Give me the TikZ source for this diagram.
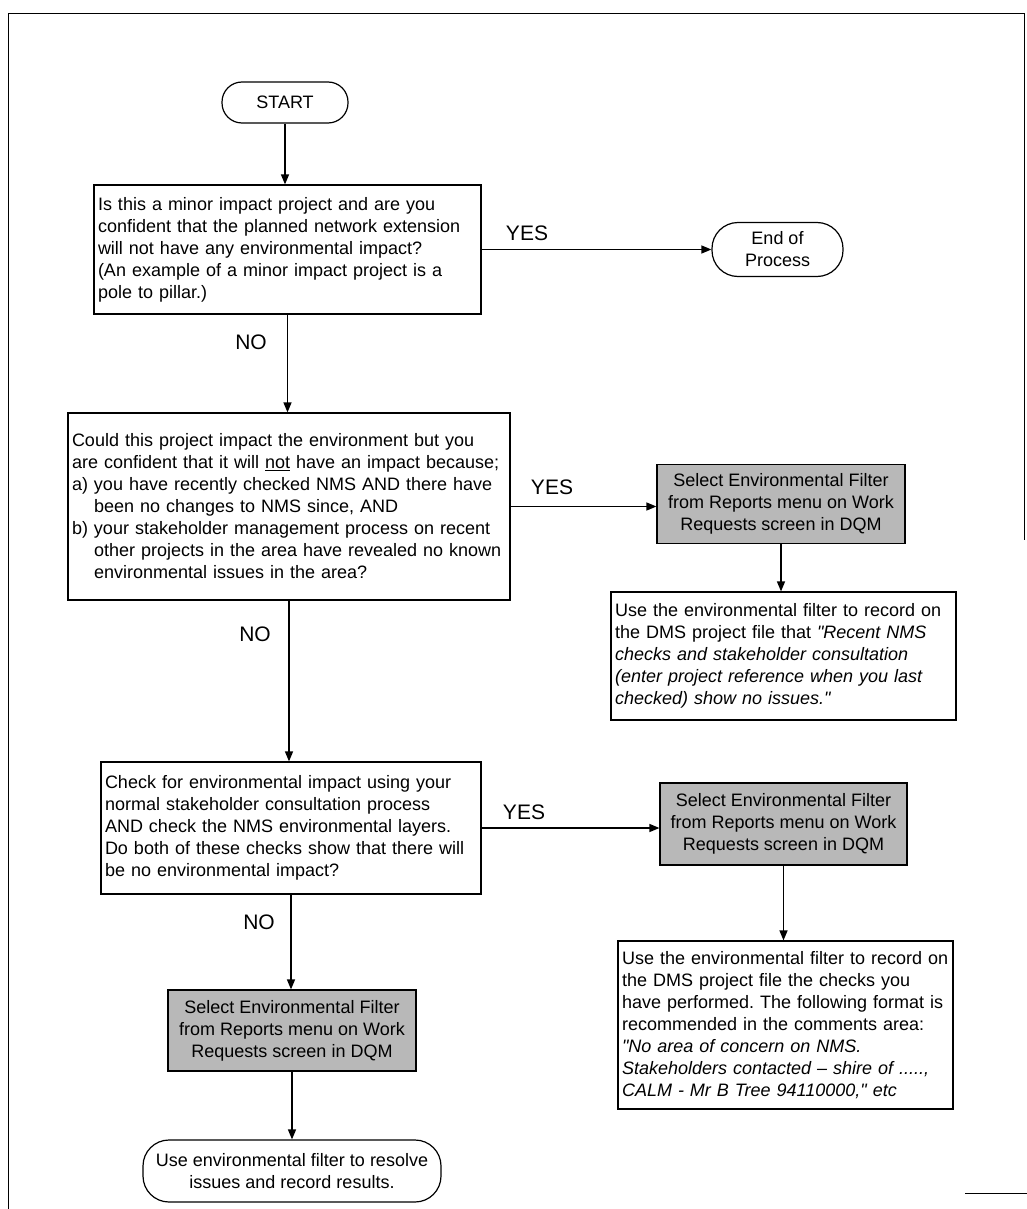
\documentclass[tikz,border=0pt]{standalone}
\usepackage{fontspec}
\setmainfont{Liberation Sans}
\usetikzlibrary{arrows.meta}
\definecolor{greyfill}{gray}{0.72}
\frenchspacing
\begin{document}
\begin{tikzpicture}[x=1pt,y=-1pt,
  every node/.style={font=\fontsize{18}{22}\selectfont},
  box/.style={draw, line width=1.2pt, inner xsep=4pt, inner ysep=0pt, align=left},
  greybox/.style={draw, line width=1.2pt, fill=greyfill, inner sep=0pt, align=center},
  term/.style={draw, line width=1.2pt, inner sep=0pt, align=center},
  arr/.style={line width=1.4pt, -{Triangle[length=10pt,width=8pt]}},
  lbl/.style={font=\fontsize{21}{25}\selectfont},
  frame/.style={line width=1pt}]
\useasboundingbox (0,0) rectangle (1027,1209);
% frame
\draw[frame] (8,1209) -- (8,14) -- (1024,14) -- (1024,540);
\draw[frame] (965,1193) -- (1027,1193);

% left column
\node[term, rounded corners=20pt, minimum width=126pt, minimum height=41pt] (start) at (285,102.5) {START};

\node[box, text width=379pt, minimum height=129pt] (q1) at (287.5,249.5)
 {Is this a minor impact project and are you\\
  confident that the planned network extension\\
  will not have any environmental impact?\\
  (An example of a minor impact project is a\\
  pole to pillar.)};

\node[term, rounded corners=26pt, minimum width=131pt, minimum height=54pt] (endp) at (777.5,249.5) {End of\\Process};

\node[box, text width=434pt, minimum height=187pt] (q2) at (289,506.5)
 {Could this project impact the environment but you\\
  are confident that it will \underline{not} have an impact because;\\
  a) you have recently checked NMS AND there have\\
  \hspace*{22pt}been no changes to NMS since, AND\\
  b) your stakeholder management process on recent\\
  \hspace*{22pt}other projects in the area have revealed no known\\
  \hspace*{22pt}environmental issues in the area?};

\node[greybox, minimum width=248pt, minimum height=79pt] (gA) at (781,504)
 {Select Environmental Filter\\from Reports menu on Work\\Requests screen in DQM};

\node[box, text width=337pt, minimum height=128pt] (r1) at (783.5,656)
 {Use the environmental filter to record on\\
  the DMS project file that {\itshape \textquotedbl Recent NMS}\\
  {\itshape checks and stakeholder consultation}\\
  {\itshape (enter project reference when you last}\\
  {\itshape checked) show no issues.\textquotedbl}};

\node[box, text width=372pt, minimum height=132pt] (q3) at (291,828)
 {Check for environmental impact using your\\
  normal stakeholder consultation process\\
  AND check the NMS environmental layers.\\
  Do both of these checks show that there will\\
  be no environmental impact?};

\node[greybox, minimum width=247pt, minimum height=82pt] (gB) at (783.5,824)
 {Select Environmental Filter\\from Reports menu on Work\\Requests screen in DQM};

\node[box, text width=327pt, minimum height=168pt] (r2) at (785.5,1025)
 {Use the environmental filter to record on\\
  the DMS project file the checks you\\
  have performed. The following format is\\
  recommended in the comments area:\\
  {\itshape \textquotedbl No area of concern on NMS.}\\
  {\itshape Stakeholders contacted – shire of .....,}\\
  {\itshape CALM - Mr B Tree 94110000,\textquotedbl\ etc}};

\node[greybox, minimum width=248pt, minimum height=81pt] (gC) at (292,1030.5)
 {Select Environmental Filter\\from Reports menu on Work\\Requests screen in DQM};

\node[term, rounded corners=26pt, minimum width=298pt, minimum height=62pt] (fin) at (292,1171)
 {Use environmental filter to resolve\\issues and record results.};

% labels
\node[lbl] (yes1) at (527,233) {YES};
\node[lbl] (yes2) at (552,487) {YES};
\node[lbl] (yes3) at (524,812) {YES};
\node[lbl] (no1) at (251,342) {NO};
\node[lbl] (no2) at (255,634) {NO};
\node[lbl] (no3) at (259,922) {NO};

% connectors
\draw[arr] (start.south) -- (start.south |- q1.north);
\draw[arr] (q1.south) -- (q1.south |- q2.north);
\draw[arr] (q2.south) -- (q2.south |- q3.north);
\draw[arr] (q3.south) -- (q3.south |- gC.north);
\draw[arr] (gC.south) -- (gC.south |- fin.north);
\draw[arr] (q1.east) -- (q1.east -| endp.west);
\draw[arr] (q2.east) -- (q2.east -| gA.west);
\draw[arr] (q3.east) -- (q3.east -| gB.west);
\draw[arr] (gA.south) -- (gA.south |- r1.north);
\draw[arr] (gB.south) -- (gB.south |- r2.north);
\end{tikzpicture}
\end{document}
